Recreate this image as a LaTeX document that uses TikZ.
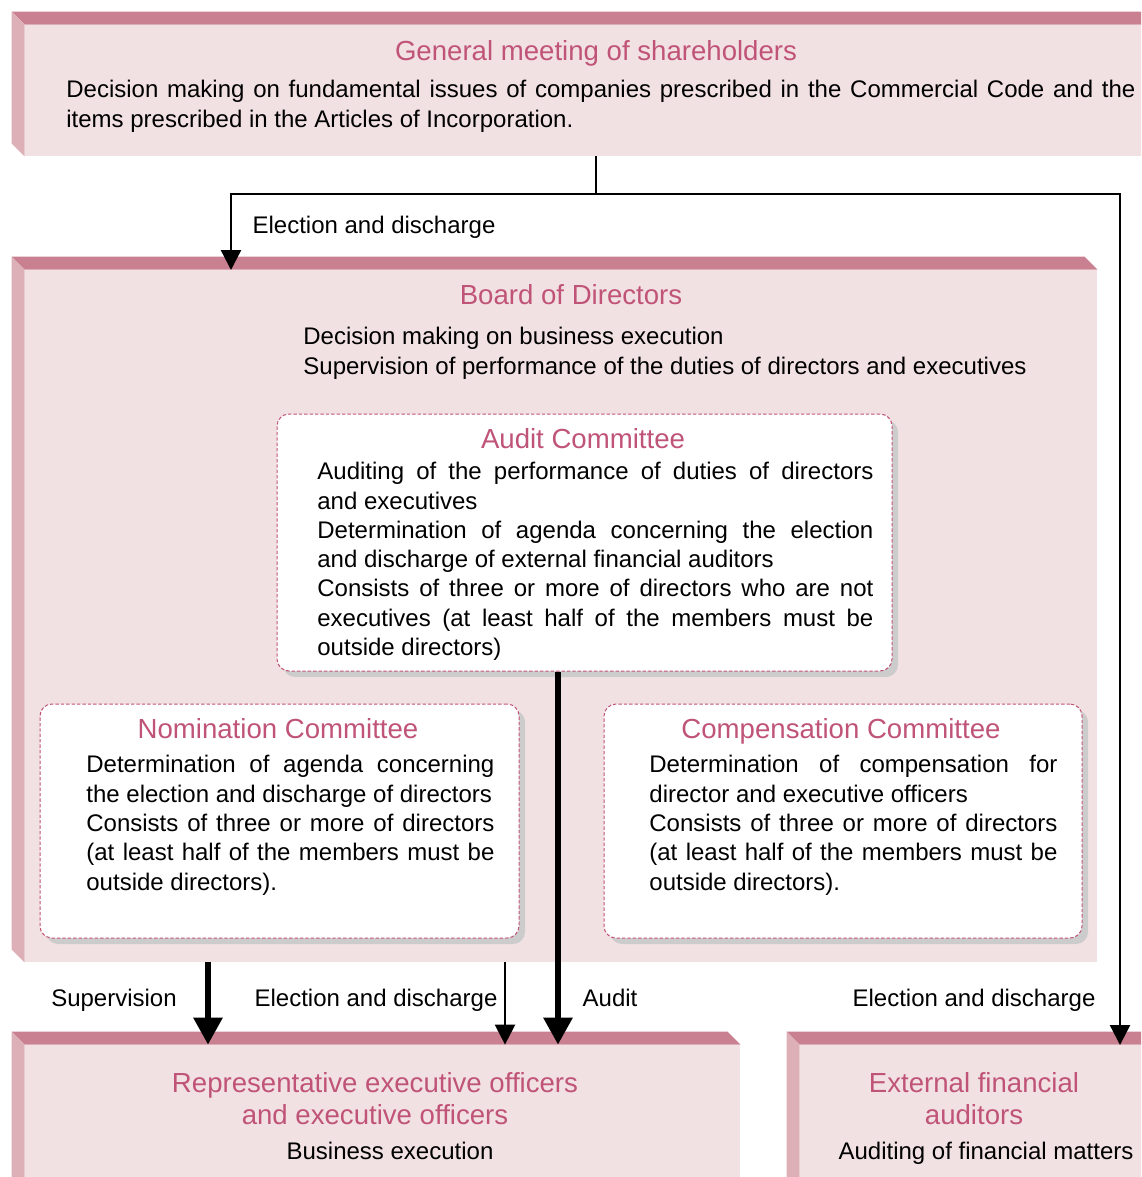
\documentclass[tikz,border=0pt]{standalone}
\usepackage{fontspec}
\setmainfont{Liberation Sans}
\usetikzlibrary{arrows.meta,fit,shadows}
\definecolor{slabtop}{RGB}{201,128,144}
\definecolor{slabside}{RGB}{221,176,184}
\definecolor{slabface}{RGB}{242,225,227}
\definecolor{titlepink}{RGB}{192,84,120}
\definecolor{shadowgray}{RGB}{204,204,204}
\hyphenpenalty=10000
\exhyphenpenalty=10000
\setlength{\parindent}{0pt}
\newcommand{\slabsides}[1]{%
  \fill[slabtop] (#1.north west) -- ([shift={(-13,-13)}]#1.north west) -- ([shift={(-13,-13)}]#1.north east) -- (#1.north east) -- cycle;
  \fill[slabside] (#1.north west) -- ([shift={(-13,-13)}]#1.north west) -- ([shift={(-13,-13)}]#1.south west) -- (#1.south west) -- cycle;}

\begin{document}
\begin{tikzpicture}[x=0.5pt,y=-0.5pt,
    face/.style={fill=slabface,inner sep=0pt},
    comm/.style={fill=white,draw=titlepink,line width=0.5pt,dash pattern=on 1.7pt off 1pt,
      rounded corners=6pt,inner sep=0pt,
      drop shadow={shadow xshift=3pt,shadow yshift=-3pt,fill=shadowgray,opacity=1}},
    title/.style={text=titlepink,font=\fontsize{13.8}{16}\selectfont,align=center,inner sep=0pt},
    body/.style={font=\fontsize{12}{14.65}\selectfont,inner sep=0pt},
    tag/.style={font=\fontsize{12}{14.65}\selectfont,inner sep=0pt},
    link/.style={line width=1.2pt},
    thinarrow/.style={link,-{Triangle[width=10pt,length=10pt]}},
    fatarrow/.style={line width=3pt,-{Triangle[width=14pt,length=13.5pt]}}]
    \useasboundingbox (0,0) rectangle (1141,1177);
    \clip (0,0) rectangle (1141,1177);

    \node[face,fit={(25,25) (1160,156)}] (gm) {};
    \slabsides{gm}
    \node[face,fit={(25,270) (1097,962)}] (bd) {};
    \slabsides{bd}
    \node[face,fit={(25,1045) (740,1200)}] (rep) {};
    \slabsides{rep}
    \node[face,fit={(800,1045) (1154,1200)}] (ext) {};
    \slabsides{ext}

    \node[comm,fit={(277,414) (892,671)}] (audit) {};
    \node[comm,fit={(40,704) (519,938)}] (nom) {};
    \node[comm,fit={(604,704) (1082,938)}] (comp) {};

    \node[title] (gmtitle) at (596,53) {General meeting of shareholders};
    \node[body,anchor=north west,text width=534.5pt,align=justify] (gmtext) at (66,80)
      {Decision making on fundamental issues of companies prescribed in the Commercial Code and the\linebreak
       items prescribed in the Articles of Incorporation.};

    \node[title] (bdtitle) at (571,295) {Board of Directors};
    \node[body,anchor=north west,align=left] (bdtext) at (303,327)
      {Decision making on business execution\\
       Supervision of performance of the duties of directors and executives};

    \node[title] (audittitle) at (583,439) {Audit Committee};
    \node[body,anchor=north west,text width=278pt,align=justify] (audittext) at (317,462)
      {Auditing of the performance of duties of directors\linebreak and executives\\
       Determination of agenda concerning the election\linebreak and discharge of external financial auditors\\
       Consists of three or more of directors who are not\linebreak executives (at least half of the members must be\linebreak outside directors)};

    \node[title] (nomtitle) at (278,729) {Nomination Committee};
    \node[body,anchor=north west,text width=204pt,align=justify] (nomtext) at (86,755)
      {Determination of agenda concerning\linebreak the election and discharge of directors\\
       Consists of three or more of directors\linebreak (at least half of the members must be\linebreak outside directors).};

    \node[title] (comptitle) at (841,731) {Compensation Committee};
    \node[body,anchor=north west,text width=204pt,align=justify] (comptext) at (649,755)
      {Determination of compensation for\linebreak director and executive officers\\
       Consists of three or more of directors\linebreak (at least half of the members must be\linebreak outside directors).};

    \node[title] (reptitle) at (375,1099) {Representative executive officers\\and executive officers};
    \node[body] (reptext) at (390,1151) {Business execution};
    \node[title] (exttitle) at (974,1099) {External financial\\auditors};
    \node[body] (exttext) at (986,1153) {Auditing of financial matters};

    \node[tag] (elect1) at (374,227) {Election and discharge};
    \node[tag] (superv) at (114,1000) {Supervision};
    \node[tag] (elect2) at (376,1000) {Election and discharge};
    \node[tag] (aud) at (610,998) {Audit};
    \node[tag] (elect3) at (974,1000) {Election and discharge};

    \coordinate (fork) at (596,194);
    \coordinate (bdin) at (231,270);
    \coordinate (extin) at (1120,1045);
    \coordinate (supx) at (208,0);
    \coordinate (selx) at (505,0);
    \coordinate (audx) at (558,0);

    \draw[link] (gm.south -| fork) -- (fork);
    \draw[thinarrow] (fork) -| (bdin);
    \draw[thinarrow] (fork) -| (extin);
    \draw[fatarrow] (bd.south -| supx) -- (rep.north -| supx);
    \draw[thinarrow] (bd.south -| selx) -- (rep.north -| selx);
    \draw[fatarrow] (audit.south -| audx) -- (rep.north -| audx);
\end{tikzpicture}
\end{document}
